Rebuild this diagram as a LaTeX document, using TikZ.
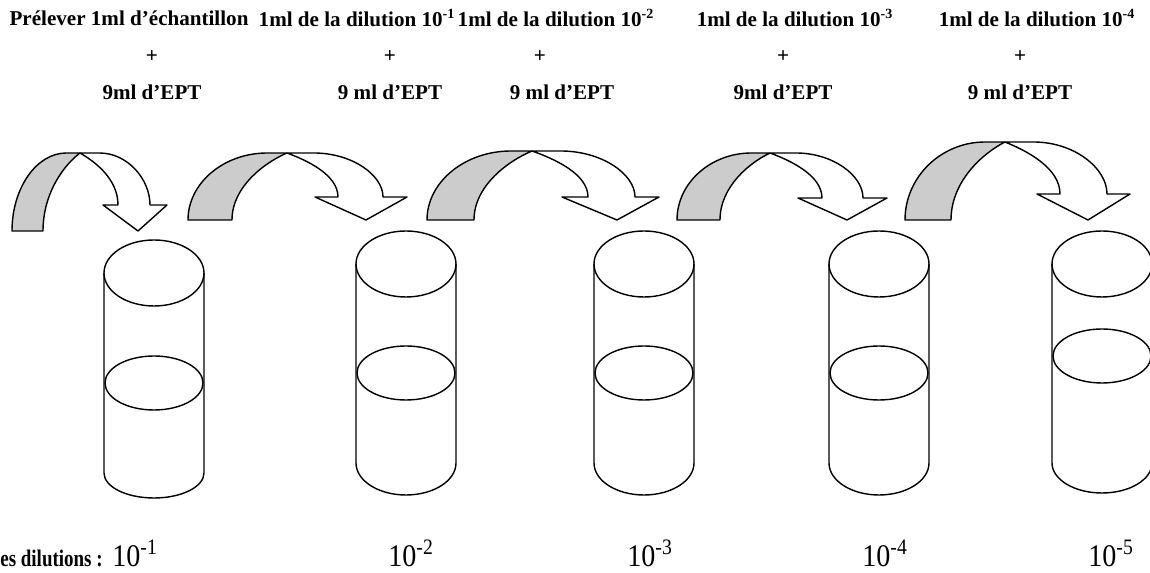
\documentclass[tikz,border=0pt]{standalone}
\usepackage{fontspec}
\setmainfont{Liberation Serif}
\usepackage{graphicx}
\usepackage{tikz}
\usetikzlibrary{positioning}
\tikzset{tube/.style = {draw, line width = 0.8pt}}
\tikzset{band/.style = {draw, line width = 0.8pt, line join = round}}
\tikzset{toplabel/.style = {font = \bfseries\fontsize{12}{14}\selectfont, inner sep = 0}}
\tikzset{doselabel/.style = {font = \fontsize{16}{18}\selectfont, inner sep = 0, anchor = base west}}

\begin{document}
\begin{tikzpicture}[x = 0.02cm, y = -0.02cm]
  \useasboundingbox (0, 0) rectangle (1150, 573);
  % what goes into each tube
  \node [toplabel] (prel) at (129, 18) {Prélever 1ml d’échantillon};
  \foreach \n/\x in {1/357, 2/556, 3/795, 4/1037}
    \node [toplabel] (dil\n) at (\x, 18) {1ml de la dilution 10\textsuperscript{-\n}};
  \foreach \n/\x in {1/152, 2/390, 3/540, 4/783, 5/1020}
    \node [toplabel] (plus\n) at (\x, 57) {+};
  \foreach \n/\x/\t in {1/152/{9ml}, 2/390/{9 ml}, 3/562/{9 ml}, 4/783/{9ml}, 5/1020/{9 ml}}
    \node [toplabel] (ept\n) at (\x, 92) {\t\ d’EPT};
  % curved arrows
  \foreach \xlo/\xli/\xjn/\xro/\xri/\xwl/\xwr/\xtip/\ytop/\yhd/\ybs in
      {12/43/80/150/118/103/167/138/153/205/231,
       188/232/287/383/338/315/407/366/153/197/220,
       427/474/532/635/588/562/659/617/151/197/220,
       677/720/770/863/822/798/887/847/153/198/220,
       905/951/1005/1107/1060/1037/1130/1088/142/194/220} {
    \pgfmathsetmacro{\xa}{\xjn - 0.2*(\xjn - \xlo)}
    \pgfmathsetmacro{\xb}{\xro - 0.72*(\xro - \xjn)}
    \draw [band, fill = gray!40]
      (\xlo, \ybs) .. controls (\xlo, {\ybs - 0.55*(\ybs - \ytop)}) and ({\xa - 0.55*(\xa - \xlo)}, \ytop) .. (\xa, \ytop)
      -- (\xjn, \ytop)
      .. controls ({\xjn - 0.4*(\xjn - \xli)}, {\ytop + 0.14*(\ybs - \ytop)}) and (\xli, {\ybs - 0.5*(\ybs - \ytop)}) .. (\xli, \ybs)
      -- cycle;
    \draw [band, fill = white]
      (\xjn, \ytop) -- (\xb, \ytop)
      .. controls ({\xb + 0.55*(\xro - \xb)}, \ytop) and (\xro, {\yhd - 0.5*(\yhd - \ytop)}) .. (\xro, \yhd)
      -- (\xwr, \yhd) -- (\xtip, \ybs) -- (\xwl, \yhd) -- (\xri, \yhd)
      .. controls (\xri, {\yhd - 0.5*(\yhd - \ytop)}) and ({\xjn + 0.4*(\xri - \xjn)}, {\ytop + 0.17*(\yhd - \ytop)}) .. (\xjn, \ytop)
      -- cycle;
  }
  % tubes
  \foreach \n/\x/\yt/\ym/\yb/\rb in {1/154/273/383/473/25, 2/406/264/373/463/32,
      3/644/264/373/463/32, 4/879/264/373/463/32, 5/1102/264/356/463/30} {
    \draw [tube] (\x-50, \yt) -- (\x-50, \yb) arc [start angle = 180, end angle = 0, x radius = 50, y radius = \rb] -- (\x+50, \yt);
    \draw [tube] (\x, \yt) ellipse [x radius = 50, y radius = 33];
    \draw [tube] (\x, \ym) ellipse [x radius = 49, y radius = 27];
  }
  % dilution reached in each tube
  \node [toplabel, font = \bfseries\fontsize{10.8}{13}\selectfont, anchor = base west] (doses) at (0, 567) {\scalebox{1}[1.25]{es dilutions :}};
  \foreach \n/\x in {1/112, 2/388, 3/627, 4/862, 5/1088}
    \node [doselabel] (dose\n) at (\x, 567) {\scalebox{1}[1.12]{10\textsuperscript{-\n}}};
\end{tikzpicture}
\end{document}
